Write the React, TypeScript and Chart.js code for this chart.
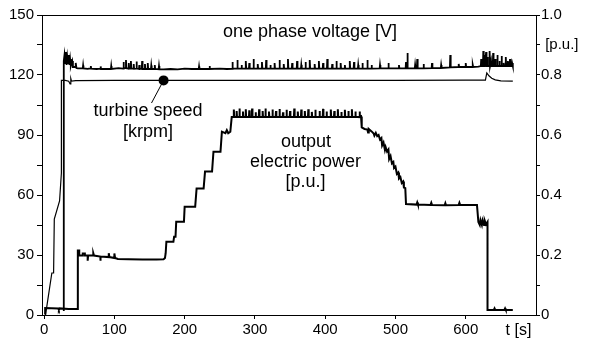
import React, { useEffect, useRef } from "react";
import { Chart, registerables } from "chart.js";

Chart.register(...registerables);

// ---- axis ticks ----
const xTicks = [0, 100, 200, 300, 400, 500, 600];
const leftTicks = [0, 15, 30, 45, 60, 75, 90, 105, 120, 135, 150];
const leftTickLabels = ["0", "", "30", "", "60", "", "90", "", "120", "", "150"];
const rightTicks = [0, 0.1, 0.2, 0.3, 0.4, 0.5, 0.6, 0.7, 0.8, 0.9, 1.0];
const rightTickLabels = ["0", "", "0.2", "", "0.4", "", "0.6", "", "0.8", " [p.u.]", "1.0"];

// ---- series: [t (s), value] ----
// one phase voltage [V] (left axis)
const voltage: [number, number][] = [
  [28, 2], [28, 127], [29, 130], [30, 126], [31, 131.5], [32, 125], [33, 129], [34, 126], [35, 130], [36, 125], [37, 128], [38, 124.5], [40, 127], [41, 124], [44, 124], [45, 126], [46, 123.5], [48, 123.3],
  [55, 123.3], [55.5, 124.8], [56, 123.3], [62, 123.1], [66, 123.3], [66.5, 124.5], [67, 123.2], [75, 123], [80, 123.2], [80.5, 124.3], [81, 123], [90, 123.1], [95, 123], [95.5, 124.5], [96, 123], [106, 123.4], [112.5, 123.2],
  [113, 126.5], [113.6, 123.4], [116, 123.4], [116.5, 127.5], [117.1, 123.4], [120, 123.2], [120.5, 126], [121.1, 123.2], [123, 123.3], [123.5, 127], [124.1, 123.3], [127, 123.2], [127.5, 125.5], [128.1, 123.1], [131, 123.2], [131.5, 126.8], [132.1, 123.2], [135, 123], [135.5, 125], [136.1, 123], [139, 123.1], [139.5, 127], [140.1, 123], [143, 123], [143.5, 125.5], [144.1, 123], [147, 123], [147.5, 126], [148.1, 123], [152, 123], [152.5, 124.8], [153.1, 123], [157, 123], [157.5, 125], [158.1, 123], [163, 122.9], [163.5, 124.5], [164.1, 122.8],
  [170, 122.8], [180, 123], [190, 122.8], [200, 123.2], [210, 123], [220, 123], [220.5, 124.3], [221, 123], [235, 123], [235.5, 124.5], [236, 123], [250, 123.2], [260, 123], [267.5, 123.1],
  [268, 126.5], [268.6, 123.2], [274.5, 123.2], [275, 127.5], [275.6, 123.2], [280.5, 123.2], [281, 125], [281.6, 123.2], [286.5, 123.2], [287, 127], [287.6, 123.2], [291.5, 123.2], [292, 126], [292.6, 123.2], [297.5, 123.2], [298, 128], [298.6, 123.2], [303.5, 123.2], [304, 125.5], [304.6, 123.2], [309.5, 123.2], [310, 126.5], [310.6, 123.2], [315.5, 123.2], [316, 127.5], [316.6, 123.2], [321.5, 123.2], [322, 125], [322.6, 123.2], [327.5, 123.2], [328, 126], [328.6, 123.2], [334.5, 123.2], [335, 127.5], [335.6, 123.2], [340.5, 123.2], [341, 125.5], [341.6, 123.2], [346.5, 123.2], [347, 128], [347.6, 123.2], [352.5, 123.2], [353, 126], [353.6, 123.2], [359.5, 123.2], [360, 127], [360.6, 123.2], [365.5, 123.2], [366, 125], [366.6, 123.2], [371.5, 123.2], [372, 126.5], [372.6, 123.2], [377.5, 123.2], [378, 127.5], [378.6, 123.2], [384.5, 123.2], [385, 125.5], [385.6, 123.2], [390.5, 123.2], [391, 127], [391.6, 123.2], [396.5, 123.2], [397, 126], [397.6, 123.2], [402.5, 123.2], [403, 128], [403.6, 123.2], [409.5, 123.2], [410, 125.5], [410.6, 123.2], [415.5, 123.2], [416, 127], [416.6, 123.2], [421.5, 123.2], [422, 126], [422.6, 123.2], [427.5, 123.2], [428, 125], [428.6, 123.2], [434.5, 123.2], [435, 127], [435.6, 123.2], [440.5, 123.2], [441, 126.5], [441.6, 123.2], [446.5, 123.2], [447, 125], [447.6, 123.2], [452.5, 123.2], [453, 126], [453.6, 123.2], [459.5, 123.2], [460, 127.5], [460.6, 123.2], [465.5, 123.2], [466, 125], [466.6, 123.2],
  [477.5, 123.3], [478, 125], [478.6, 123.3], [489.5, 123.3], [490, 126], [490.6, 123.3], [504.5, 123.3], [505, 125], [505.6, 123.3], [514.5, 123.3], [515, 126.5], [515.6, 123.3], [516.5, 123.3], [517, 131], [517.6, 123.3], [527.5, 123.3], [528, 125], [528.6, 123.3], [530.5, 123.3], [531, 128], [531.6, 123.3], [539.5, 123.3], [540, 125.5], [540.6, 123.3], [551.5, 123.4], [552, 126], [552.6, 123.4], [564.5, 123.5], [565, 125], [565.6, 123.5], [577.5, 123.8], [578, 130], [578.6, 123.8], [589.5, 124], [590, 125.5], [590.6, 124], [599.5, 124], [600, 126], [600.6, 124], [609.5, 124], [610, 125], [610.6, 124], [618, 124.2],
  [621.5, 124.5], [622, 128], [622.6, 124.5], [624.5, 124.5], [625, 132], [625.6, 124.5], [626.5, 124.5], [627, 130], [627.6, 124.5], [628.5, 124.5], [629, 131.5], [629.6, 124.5], [630.5, 124.5], [631, 129], [631.6, 124.5], [633.5, 124.5], [634, 132], [634.6, 124.5], [635.5, 124.5], [636, 127], [636.6, 124.5], [638.5, 124.5], [639, 131], [639.6, 124.5], [641.5, 124.5], [642, 128], [642.6, 124.5], [644.5, 124.5], [645, 130], [645.6, 124.5], [647.5, 124.5], [648, 127], [648.6, 124.5], [650.5, 124.5], [651, 129.5], [651.6, 124.5], [653.5, 124.5], [654, 126], [654.6, 124.5], [656.5, 124.5], [657, 129], [657.6, 124.5], [659.5, 124.5], [660, 127], [660.6, 124.5], [662.5, 124.5], [663, 128], [663.6, 124.5], [665.5, 124.5], [666, 126], [667, 124.5],
];

// turbine speed [krpm] (left axis)
const speed: [number, number][] = [
  [2, 0], [11, 21], [13.5, 21], [14.5, 48], [22, 57], [24.6, 71], [24.6, 117.3], [30, 117.3], [35, 116.9], [37, 115.5], [38, 118.2], [39, 116.9], [45, 117.2],
  [100, 117.3], [200, 117.3], [300, 117.3], [400, 117.3], [500, 117.3], [600, 117.4], [628, 117.4], [630, 121], [633, 119.6], [637, 118.4], [642, 117.6], [650, 117.1], [667, 116.9],
];

// output electric power [p.u.] (right axis)
const power: [number, number][] = [
  [0, 0.005], [1.5, 0.005], [1.5, 0.023], [20, 0.022], [21, 0.017], [22, 0.022], [35, 0.02], [48, 0.02],
  [48, 0.215], [50, 0.215], [50, 0.198], [55, 0.198], [55, 0.205], [58, 0.205], [58, 0.198], [62, 0.198], [62, 0.181], [62.6, 0.198], [70, 0.198], [70, 0.206], [71, 0.198], [80, 0.195], [80, 0.181], [80.6, 0.195], [92, 0.193], [92, 0.206], [93, 0.193], [100, 0.19], [100, 0.205], [101, 0.19], [105, 0.187],
  [120, 0.186], [140, 0.185], [160, 0.185], [170, 0.186], [172, 0.19], [173, 0.206], [174, 0.244], [184, 0.244], [185, 0.261], [187, 0.261], [188, 0.311], [199, 0.311], [200, 0.361], [215, 0.361], [217, 0.422], [227, 0.422], [229, 0.478], [239, 0.478], [241, 0.544], [251, 0.544], [253, 0.611], [258, 0.606], [260, 0.616], [262, 0.606], [265, 0.611], [267, 0.66],
  [269.5, 0.66], [270, 0.685], [270.5, 0.66], [273.5, 0.66], [274, 0.68], [274.5, 0.66], [277.5, 0.66], [278, 0.688], [278.5, 0.66], [282.5, 0.66], [283, 0.678], [283.5, 0.66], [286.5, 0.66], [287, 0.686], [287.5, 0.66], [291.5, 0.66], [292, 0.682], [292.5, 0.66], [295.5, 0.66], [296, 0.688], [296.5, 0.66], [300.5, 0.66], [301, 0.676], [301.5, 0.66], [305.5, 0.66], [306, 0.686], [306.5, 0.66], [310.5, 0.66], [311, 0.68], [311.5, 0.66], [314.5, 0.66], [315, 0.688], [315.5, 0.66], [319.5, 0.66], [320, 0.678], [320.5, 0.66], [324.5, 0.66], [325, 0.685], [325.5, 0.66], [329.5, 0.66], [330, 0.68], [330.5, 0.66], [334.5, 0.66], [335, 0.687], [335.5, 0.66], [339.5, 0.66], [340, 0.676], [340.5, 0.66], [344.5, 0.66], [345, 0.684], [345.5, 0.66], [349.5, 0.66], [350, 0.68], [350.5, 0.66], [355.5, 0.66], [356, 0.688], [356.5, 0.66], [360.5, 0.66], [361, 0.678], [361.5, 0.66], [365.5, 0.66], [366, 0.685], [366.5, 0.66], [370.5, 0.66], [371, 0.68], [371.5, 0.66], [375.5, 0.66], [376, 0.686], [376.5, 0.66], [380.5, 0.66], [381, 0.677], [381.5, 0.66], [385.5, 0.66], [386, 0.684], [386.5, 0.66], [391.5, 0.66], [392, 0.68], [392.5, 0.66], [396.5, 0.66], [397, 0.687], [397.5, 0.66], [401.5, 0.66], [402, 0.678], [402.5, 0.66], [407.5, 0.66], [408, 0.685], [408.5, 0.66], [412.5, 0.66], [413, 0.68], [413.5, 0.66], [417.5, 0.66], [418, 0.686], [418.5, 0.66], [422.5, 0.66], [423, 0.677], [423.5, 0.66], [427.5, 0.66], [428, 0.684], [428.5, 0.66], [432.5, 0.66], [433, 0.68], [433.5, 0.66], [437.5, 0.66], [438, 0.686], [438.5, 0.66], [442.5, 0.66], [443, 0.678], [443.5, 0.66], [448.5, 0.66], [449, 0.678], [449.5, 0.66], [451, 0.662],
  [452, 0.625], [456, 0.62], [460, 0.618], [461, 0.608], [462, 0.62], [466, 0.612], [469, 0.605], [470, 0.598], [472, 0.607], [474, 0.596], [476, 0.6], [478, 0.585], [480, 0.59], [481, 0.565], [483, 0.575], [485, 0.55], [486, 0.56], [488, 0.545], [490, 0.552], [491, 0.52], [493, 0.53], [495, 0.505], [497, 0.51], [498, 0.49], [500, 0.495], [502, 0.47], [504, 0.475], [505, 0.455], [507, 0.46], [509, 0.44], [511, 0.445], [512, 0.425], [514, 0.423],
  [515, 0.37], [530, 0.368], [531, 0.375], [532, 0.368], [550, 0.367], [551, 0.374], [552, 0.367], [570, 0.366], [571, 0.373], [572, 0.366], [590, 0.367], [591, 0.374], [592, 0.367], [616, 0.367],
  [618, 0.31], [620, 0.3], [621, 0.316], [623, 0.3], [624, 0.315], [626, 0.3], [627, 0.315], [629, 0.302], [631, 0.31],
  [631, 0.017], [640, 0.017], [641, 0.022], [642, 0.017], [655, 0.017], [656, 0.022], [657, 0.017], [667, 0.017],
];

// marker on the speed trace
const speedMarker: [number, number] = [170, 117.3];

const FONT = '"Liberation Sans", Arial, Helvetica, sans-serif';

const texts: { text: string; x: number; y: number; size: number }[] = [
  { text: "one phase voltage [V]", x: 310, y: 37, size: 18 },
  { text: "turbine speed", x: 148, y: 116, size: 18 },
  { text: "[krpm]", x: 148, y: 137, size: 18 },
  { text: "output", x: 306, y: 147, size: 18 },
  { text: "electric power", x: 305.5, y: 167, size: 18 },
  { text: "[p.u.]", x: 305.5, y: 187, size: 18 },
  { text: "t [s]", x: 518.5, y: 335, size: 16 },
];

const toXY = (arr: [number, number][]) => arr.map(([x, y]) => ({ x, y }));

const overlay = {
  id: "overlay",
  afterDatasetsDraw(chart: any) {
    const { ctx, chartArea, scales } = chart;
    ctx.save();
    ctx.strokeStyle = "#000";
    ctx.lineWidth = 1;
    ctx.beginPath();
    ctx.moveTo(chartArea.left, chartArea.top + 0.5);
    ctx.lineTo(chartArea.right, chartArea.top + 0.5);
    ctx.stroke();
    const dx = scales.x.getPixelForValue(speedMarker[0]);
    const dy = scales.y.getPixelForValue(speedMarker[1]);
    ctx.beginPath();
    ctx.moveTo(dx, dy);
    ctx.lineTo(151.5, 103);
    ctx.stroke();
    ctx.beginPath();
    ctx.arc(dx, dy, 5, 0, Math.PI * 2);
    ctx.fillStyle = "#000";
    ctx.fill();
    ctx.textAlign = "center";
    ctx.textBaseline = "alphabetic";
    for (const t of texts) {
      ctx.font = `${t.size}px ${FONT}`;
      ctx.fillText(t.text, t.x, t.y);
    }
    ctx.restore();
  },
};

export default function App() {
  const ref = useRef<HTMLCanvasElement | null>(null);
  useEffect(() => {
    if (!ref.current) return;
    const tickFont = { family: FONT, size: 15 };
    const chart = new Chart(ref.current, {
      type: "scatter",
      data: {
        datasets: [
          { label: "voltage", data: toXY(voltage), yAxisID: "y", showLine: true, borderColor: "#000", borderWidth: 1.8, pointRadius: 0, tension: 0 },
          { label: "speed", data: toXY(speed), yAxisID: "y", showLine: true, borderColor: "#000", borderWidth: 1.2, pointRadius: 0, tension: 0 },
          { label: "power", data: toXY(power), yAxisID: "y1", showLine: true, borderColor: "#000", borderWidth: 2, pointRadius: 0, tension: 0 },
        ],
      },
      options: {
        animation: false,
        responsive: false,
        devicePixelRatio: 1,
        layout: { padding: { top: 15, left: 0, right: 0, bottom: 0 } },
        plugins: { legend: { display: false }, tooltip: { enabled: false } },
        scales: {
          x: {
            type: "linear",
            position: "bottom",
            min: -3,
            max: 700,
            afterBuildTicks: (s: any) => { s.ticks = xTicks.map((v) => ({ value: v })); },
            afterFit: (s: any) => { s.height = 30; },
            grid: { drawOnChartArea: false, drawTicks: true, tickLength: 4, color: "#000" },
            border: { color: "#000", width: 1 },
            ticks: { font: tickFont, color: "#000", padding: 2, maxRotation: 0, autoSkip: false, callback: (v: any) => String(v) },
          },
          y: {
            type: "linear",
            position: "left",
            min: 0,
            max: 150,
            afterBuildTicks: (s: any) => { s.ticks = leftTicks.map((v) => ({ value: v })); },
            afterFit: (s: any) => { s.width = 42; },
            grid: { drawOnChartArea: false, drawTicks: true, tickLength: 5, color: "#000" },
            border: { color: "#000", width: 1 },
            ticks: { font: tickFont, color: "#000", padding: 3, autoSkip: false, callback: (_v: any, i: number) => leftTickLabels[i] },
          },
          y1: {
            type: "linear",
            position: "right",
            min: 0,
            max: 1,
            afterBuildTicks: (s: any) => { s.ticks = rightTicks.map((v) => ({ value: v })); },
            afterFit: (s: any) => { s.width = 57; },
            grid: { drawOnChartArea: false, drawTicks: true, tickLength: 4, color: "#000" },
            border: { color: "#000", width: 1 },
            ticks: { font: tickFont, color: "#000", padding: 1, autoSkip: false, callback: (_v: any, i: number) => rightTickLabels[i] },
          },
        },
      },
      plugins: [overlay],
    });
    return () => chart.destroy();
  }, []);
  return (
    <div style={{ position: "fixed", left: 0, top: 0, width: 593, height: 345, background: "#fff" }}>
      <canvas ref={ref} width={593} height={345} style={{ display: "block" }} />
    </div>
  );
}
